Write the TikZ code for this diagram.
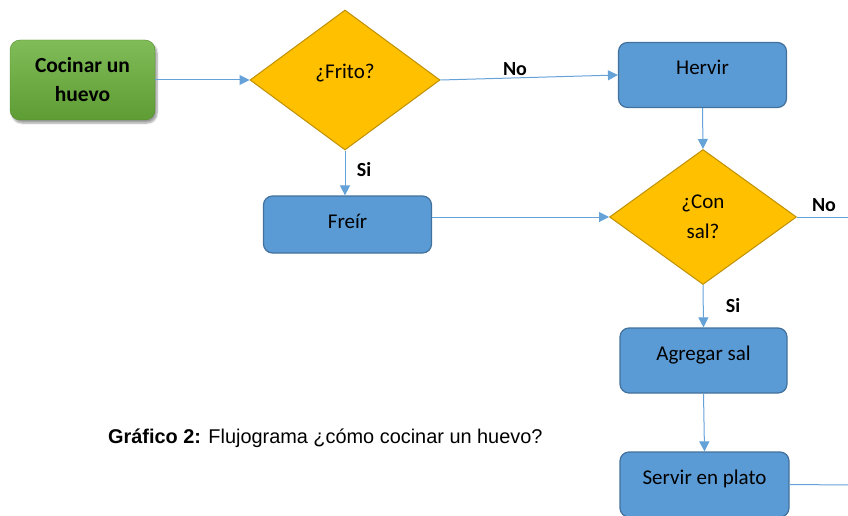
\documentclass[tikz,border=0pt]{standalone}
\usepackage{fontspec}
\setmainfont{Carlito}
\newfontfamily\capfont{Liberation Sans}
\usepackage{xcolor}
\usepackage{tikz}
\usetikzlibrary{shapes,arrows.meta,positioning,shadows.blur}

\definecolor{boxblue}{RGB}{91,155,213}
\definecolor{boxedge}{RGB}{65,113,156}
\definecolor{diafill}{RGB}{255,192,0}
\definecolor{diaedge}{RGB}{191,144,0}
\definecolor{linkblue}{RGB}{101,162,216}
\definecolor{greentop}{RGB}{128,188,88}
\definecolor{greenbot}{RGB}{94,156,52}
\definecolor{greenedge}{RGB}{84,140,48}

\tikzset{
    procbox/.style={
        rectangle,
        rounded corners=9pt,
        draw=boxedge,
        line width=1.2pt,
        fill=boxblue,
        minimum width=168pt,
        minimum height=65pt,
        font=\fontsize{21}{24}\selectfont,
        text height=14pt,
        text depth=14pt
    },
    decision/.style={
        diamond,
        draw=diaedge,
        line width=1pt,
        fill=diafill,
        inner sep=0pt,
        align=center,
        font=\fontsize{21}{31}\selectfont
    },
    link/.style={
        draw=linkblue,
        line width=1pt,
        -{Triangle[length=10pt,width=10pt]}
    },
    plainlink/.style={
        draw=linkblue,
        line width=1pt
    },
    answer/.style={
        font=\bfseries\fontsize{20}{22}\selectfont
    }
}

\begin{document}
\begin{tikzpicture}[x=1pt,y=-1pt]

    \useasboundingbox (0,0) rectangle (848,516);

    % start
    \node[
        rectangle,
        rounded corners=10pt,
        draw=greenedge,
        top color=greentop,
        bottom color=greenbot,
        minimum width=145pt,
        minimum height=80pt,
        align=center,
        font=\bfseries\fontsize{21.5}{29}\selectfont,
        blur shadow={shadow blur steps=6,shadow xshift=2pt,shadow yshift=-3pt}
    ] (inicio) at (82.5,80) {Cocinar un\\huevo};

    % decisions
    \node[decision, minimum width=190pt, minimum height=140pt] (frito) at (345,80) {\raisebox{18pt}{¿Frito?}};
    \node[decision, minimum width=187pt, minimum height=135pt] (consal) at (703,217) {\raisebox{-8.5pt}{\shortstack{¿Con\\[9pt]sal?}}};

    % steps
    \node[procbox] (hervir) at (702.5,75) {Hervir};
    \node[procbox, minimum height=57pt, text depth=6pt] (freir) at (347.5,224.5) {Freír};
    \node[procbox, minimum width=167pt] (agregar) at (703.5,360.5) {Agregar sal};
    \node[procbox, minimum width=169pt] (servir) at (704.5,484.5) {Servir en plato};

    \coordinate (salida1) at (850,217);
    \coordinate (salida2) at (850,485);

    % connectors
    \draw[link] (inicio.east) -- (frito.west);
    \draw[link] (frito.east) -- (hervir.west);
    \draw[link] (frito.south) -- (freir.north -| frito.south);
    \draw[link] (hervir.south) -- (consal.north);
    \draw[link] (freir.east |- consal.west) -- (consal.west);
    \draw[link] (consal.south) -- (agregar.north);
    \draw[link] (agregar.south) -- (servir.north);
    \draw[plainlink] (consal.east) -- (salida1);
    \draw[plainlink] (servir.east) -- (salida2);

    % answers
    \node[answer] (no1) at (515,69) {No};
    \node[answer] (si1) at (364,170) {Si};
    \node[answer] (no2) at (824,205) {No};
    \node[answer] (si2) at (733,306) {Si};

    % caption
    \node[
        anchor=west,
        inner sep=0pt,
        font=\capfont\fontsize{19.9}{22}\selectfont
    ] (titulo) at (108,438) {\textbf{Gráfico 2:} Flujograma ¿cómo cocinar un huevo?};

\end{tikzpicture}
\end{document}
